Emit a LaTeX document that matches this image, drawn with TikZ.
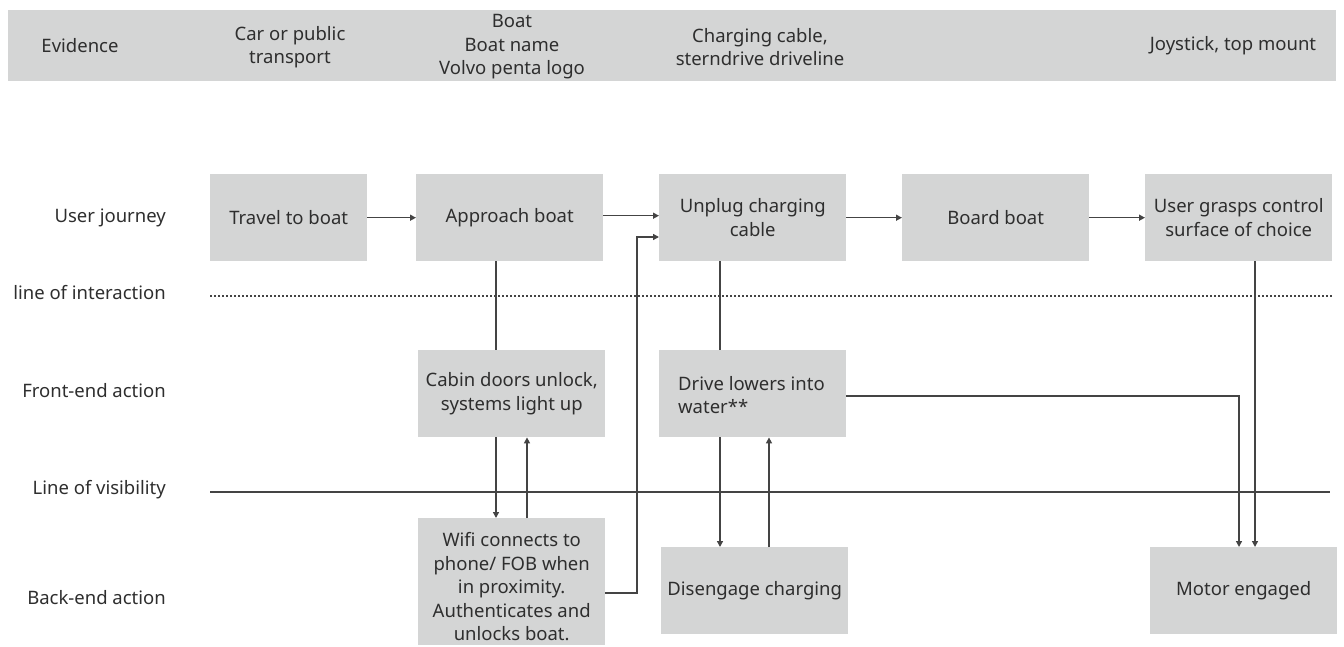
\documentclass[tikz,border=0pt]{standalone}
\usepackage{fontspec}
\setmainfont{Noto Sans}
\usetikzlibrary{arrows.meta}
\definecolor{boxgray}{HTML}{D4D5D5}
\definecolor{inkgray}{HTML}{2E2E2E}
\definecolor{linegray}{HTML}{444444}
\begin{document}
\begin{tikzpicture}[x=1pt,y=-1pt,
  every node/.style={text=inkgray,font=\fontsize{18.5}{23.5}\selectfont},
  stepbox/.style={fill=boxgray,minimum width=187pt,minimum height=87pt,inner sep=2pt,align=center,anchor=north west},
  rowlabel/.style={anchor=east,align=right,inner sep=0pt},
  flow/.style={draw=linegray,line width=1.4pt},
  arr/.style={flow,-{Triangle[length=6pt,width=6pt]}}]
\useasboundingbox (0,0) rectangle (1344,647);
% evidence band
\fill[boxgray] (8,10) rectangle (1336,81);
\node (ev) at (80,46) {Evidence};
\node[align=center] (ev1) at (290,47) {Car or public\\transport};
\node[align=center] (ev2) at (512,47) {Boat\\Boat name\\Volvo penta logo};
\node[align=center] (ev3) at (760,47) {Charging cable,\\sterndrive driveline};
\node (ev4) at (1233,46) {Joystick, top mount};
% row labels
\node[rowlabel] (r1) at (166,218) {User journey};
\node[rowlabel] (r2) at (166,293) {line of interaction};
\node[rowlabel] (r3) at (166,391) {Front-end action};
\node[rowlabel] (r4) at (166,490) {Line of visibility};
\node[rowlabel] (r5) at (166,598) {Back-end action};
% separator lines
\coordinate (iL) at (210,296); \coordinate (iR) at (1332,296);
\coordinate (vL) at (210,492); \coordinate (vR) at (1330,492);
\draw[linegray,line width=1.4pt,dash pattern=on 2pt off 2pt] (iL) -- (iR);
\draw[linegray,line width=1.4pt] (vL) -- (vR);
% user journey
\node[stepbox,minimum width=157pt] (travel) at (210,174) {Travel to boat};
\node[stepbox] (approach) at (416,174) {Approach boat};
\node[stepbox] (unplug) at (659,174) {Unplug charging\\cable};
\node[stepbox] (board) at (902,174) {Board boat};
\node[stepbox] (grasp) at (1145,174) {User grasps control\\surface of choice};
% front-end actions
\node[stepbox] (cabin) at (418,350) {Cabin doors unlock,\\systems light up};
\node[stepbox] (drive) at (659,350) {};
\node[anchor=north west,align=left,inner sep=0pt] (drivetxt) at (678,376) {Drive lowers into\\water**};
% back-end actions
\node[stepbox,minimum height=127pt] (wifi) at (418,518) {};
\node[align=center] (wifitxt) at ([yshift=-5pt]wifi.center) {Wifi connects to\\phone/ FOB when\\in proximity.\\Authenticates and\\unlocks boat.};
\node[stepbox] (diseng) at (661,547) {Disengage charging};
\node[stepbox] (motor) at (1150,547) {Motor engaged};
% journey arrows
\draw[arr] (travel.east) -- (travel.east -| approach.west);
\draw[arr] ([yshift=2pt]approach.east) -- ([yshift=2pt]approach.east -| unplug.west);
\draw[arr] (unplug.east) -- (unplug.east -| board.west);
\draw[arr] (board.east) -- (board.east -| grasp.west);
% approach -> cabin -> wifi
\draw[flow] (approach.south -| 496,0) -- (cabin.north -| 496,0);
\draw[arr] (cabin.south -| 496,0) -- (wifi.north -| 496,0);
\draw[arr] (wifi.north -| 527,0) -- (cabin.south -| 527,0);
% wifi -> unplug
\coordinate (w1) at (637,593);
\coordinate (w2) at (637,237);
\draw[arr] (wifi.east |- w1) -- (w1) -- (w2) -- (w2 -| unplug.west);
% unplug -> drive -> disengage
\draw[flow] (unplug.south -| 720,0) -- (drive.north -| 720,0);
\draw[arr] (drive.south -| 720,0) -- (diseng.north -| 720,0);
\draw[arr] (diseng.north -| 769,0) -- (drive.south -| 769,0);
% drive -> motor, grasp -> motor
\coordinate (d1) at (1239,396);
\draw[arr] (drive.east |- d1) -- (d1) -- (d1 |- motor.north);
\draw[arr] (grasp.south -| 1255,0) -- (motor.north -| 1255,0);
\end{tikzpicture}
\end{document}
